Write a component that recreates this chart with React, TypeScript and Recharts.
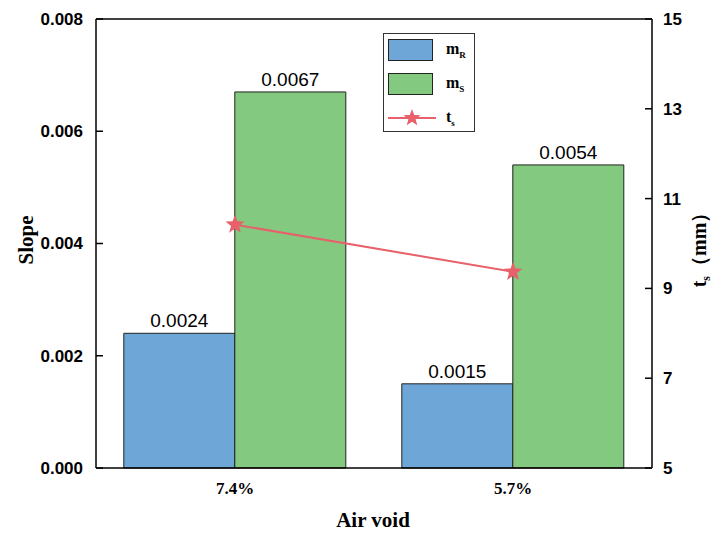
import { FC } from "react";
import {
  ComposedChart,
  Bar,
  Line,
  XAxis,
  YAxis,
  LabelList,
  ReferenceLine,
} from "recharts";

const categories = ["7.4%", "5.7%"];
const mR = [0.0024, 0.0015];
const mS = [0.0067, 0.0054];
const ts = [10.42, 9.37];
const slopeTicks = [0, 0.002, 0.004, 0.006, 0.008];
const tsTicks = [5, 7, 9, 11, 13, 15];

const data = categories.map((c, i) => ({
  name: c,
  mR: mR[i],
  mS: mS[i],
  ts: ts[i],
}));

const BLUE = "#6fa6d8";
const GREEN = "#83c97f";
const RED = "#e8606a";

const starPath = (cx: number, cy: number, R: number, r: number) => {
  let d = "";
  for (let i = 0; i < 10; i++) {
    const rad = i % 2 === 0 ? R : r;
    const a = -Math.PI / 2 + (i * Math.PI) / 5;
    d += (i === 0 ? "M" : "L") + (cx + rad * Math.cos(a)) + "," + (cy + rad * Math.sin(a));
  }
  return d + "Z";
};

const StarDot = (props: any) => {
  const { cx, cy, index } = props;
  if (cx == null || cy == null) return null;
  return <path key={index} d={starPath(cx, cy, 10, 4.2)} fill={RED} />;
};

const LeftTick = (props: any) => {
  const { x, y, payload } = props;
  return (
    <g>
      <line x1={x} x2={x + 7} y1={y} y2={y} stroke="#000" strokeWidth={1.5} />
      <text
        x={x - 13}
        y={y}
        dy="0.35em"
        textAnchor="end"
        fontFamily="Liberation Sans, Arial, sans-serif"
        fontWeight="bold"
        fontSize={17}
        fill="#000"
      >
        {Number(payload.value).toFixed(3)}
      </text>
    </g>
  );
};

const RightTick = (props: any) => {
  const { x, y, payload } = props;
  return (
    <g>
      <line x1={x} x2={x - 7} y1={y} y2={y} stroke="#000" strokeWidth={1.5} />
      <text
        x={x + 11}
        y={y}
        dy="0.35em"
        textAnchor="start"
        fontFamily="Liberation Sans, Arial, sans-serif"
        fontWeight="bold"
        fontSize={17}
        fill="#000"
      >
        {payload.value}
      </text>
    </g>
  );
};

const BottomTick = (props: any) => {
  const { x, y, payload } = props;
  return (
    <text
      x={x}
      y={y + 12}
      dy="0.35em"
      textAnchor="middle"
      fontFamily="Liberation Serif, Times New Roman, serif"
      fontWeight="bold"
      fontSize={17}
      fill="#000"
    >
      {payload.value}
    </text>
  );
};

const Sub: FC<{ main: string; sub: string }> = ({ main, sub }) => (
  <span style={{ fontFamily: "Liberation Serif, serif", fontWeight: "bold", fontSize: 16 }}>
    {main}
    <sub style={{ fontSize: 9 }}>{sub}</sub>
  </span>
);

const App: FC = () => {
  return (
    <div style={{ position: "absolute", left: 0, top: 0, width: 714, height: 533, background: "#fff" }}>
      <ComposedChart
        width={714}
        height={533}
        data={data}
        margin={{ top: 19, right: 0, bottom: 0, left: 0 }}
        barCategoryGap="10%"
        barGap={0}
      >
        <XAxis
          dataKey="name"
          height={65}
          tickLine={false}
          tick={<BottomTick />}
          axisLine={{ stroke: "#000", strokeWidth: 1.5 }}
        />
        <YAxis
          yAxisId="left"
          width={96}
          domain={[0, 0.008]}
          ticks={slopeTicks}
          tickSize={0}
          tickMargin={0}
          tickLine={false}
          tick={<LeftTick />}
          axisLine={{ stroke: "#000", strokeWidth: 1.5 }}
        />
        <YAxis
          yAxisId="right"
          orientation="right"
          width={62}
          domain={[5, 15]}
          ticks={tsTicks}
          tickSize={0}
          tickMargin={0}
          tickLine={false}
          tick={<RightTick />}
          axisLine={{ stroke: "#000", strokeWidth: 1.5 }}
        />
        <ReferenceLine yAxisId="left" y={0.008} stroke="#000" strokeWidth={1.5} ifOverflow="visible" />
        <Bar yAxisId="left" dataKey="mR" fill={BLUE} stroke="#222" strokeWidth={1} isAnimationActive={false}>
          <LabelList
            dataKey="mR"
            position="top"
            offset={6}
            fill="#000"
            fontSize={19}
            fontFamily="Liberation Sans, Arial, sans-serif"
          />
        </Bar>
        <Bar yAxisId="left" dataKey="mS" fill={GREEN} stroke="#222" strokeWidth={1} isAnimationActive={false}>
          <LabelList
            dataKey="mS"
            position="top"
            offset={6}
            fill="#000"
            fontSize={19}
            fontFamily="Liberation Sans, Arial, sans-serif"
          />
        </Bar>
        <Line
          yAxisId="right"
          dataKey="ts"
          stroke={RED}
          strokeWidth={2}
          dot={<StarDot />}
          activeDot={false}
          isAnimationActive={false}
        />
        <text
          x={373}
          y={520}
          dy="0.35em"
          textAnchor="middle"
          fontFamily="Liberation Serif, Times New Roman, serif"
          fontWeight="bold"
          fontSize={21}
          fill="#000"
        >
          Air void
        </text>
        <text
          x={26}
          y={240}
          transform="rotate(-90 26 240)"
          textAnchor="middle"
          dy="0.35em"
          fontFamily="Liberation Serif, Times New Roman, serif"
          fontWeight="bold"
          fontSize={21}
          fill="#000"
        >
          Slope
        </text>
        <text
          x={699}
          y={245}
          transform="rotate(-90 699 245)"
          textAnchor="middle"
          dy="0.35em"
          fontFamily="Liberation Serif, Times New Roman, serif"
          fontWeight="bold"
          fontSize={20}
          fill="#000"
        >
          t<tspan fontSize={12} dy="4">s</tspan>
          <tspan dy="-4">（mm）</tspan>
        </text>
      </ComposedChart>
      <div
        style={{
          position: "absolute",
          left: 383,
          top: 33,
          width: 92,
          height: 99,
          border: "1.5px solid #333",
          boxSizing: "border-box",
          background: "#fff",
        }}
      >
        <div style={{ position: "absolute", left: 4, top: 5, width: 45, height: 22, background: BLUE, border: "1px solid #222", boxSizing: "border-box" }} />
        <div style={{ position: "absolute", left: 62, top: 5, lineHeight: "20px" }}>
          <Sub main="m" sub="R" />
        </div>
        <div style={{ position: "absolute", left: 4, top: 39, width: 45, height: 22, background: GREEN, border: "1px solid #222", boxSizing: "border-box" }} />
        <div style={{ position: "absolute", left: 62, top: 39, lineHeight: "20px" }}>
          <Sub main="m" sub="S" />
        </div>
        <svg style={{ position: "absolute", left: 4, top: 73 }} width={48} height={22}>
          <line x1={0} x2={48} y1={11} y2={11} stroke={RED} strokeWidth={2} />
          <path d={starPath(24, 11, 9, 3.8)} fill={RED} />
        </svg>
        <div style={{ position: "absolute", left: 62, top: 73, lineHeight: "20px" }}>
          <Sub main="t" sub="s" />
        </div>
      </div>
    </div>
  );
};

export default App;
